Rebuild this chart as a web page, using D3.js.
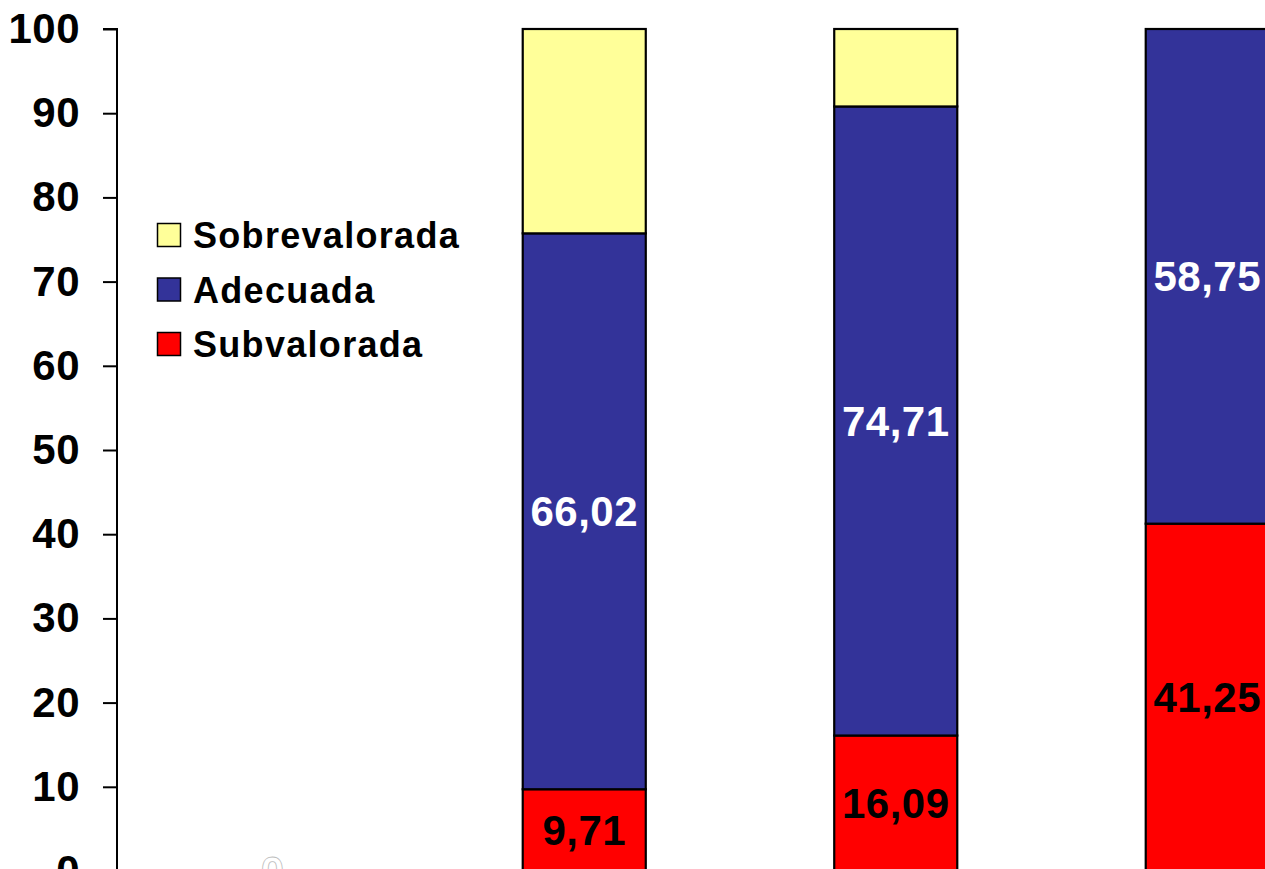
<!DOCTYPE html>
<html>
<head>
<meta charset="utf-8">
<script src="https://cdn.jsdelivr.net/npm/d3@7"></script>
<style>
  html, body { margin: 0; padding: 0; background: #fff; overflow: hidden; }
  svg { display: block; }
  text { font-family: "Liberation Sans", Arial, sans-serif; font-weight: bold; }
</style>
</head>
<body>
<svg id="chart" width="1265" height="869"></svg>
<script>
// ---- data ----
const categories = ["Grupo 1", "Grupo 2", "Grupo 3", "Grupo 4"];
const subvalorada   = [null, 9.71, 16.09, 41.25];
const adecuada      = [0, 66.02, 74.71, 58.75];
const sobrevalorada = [null, 24.27, 9.20, 0];
const seriesNames = ["Subvalorada", "Adecuada", "Sobrevalorada"];
const legendOrder = ["Sobrevalorada", "Adecuada", "Subvalorada"];
const yTicks = [0, 10, 20, 30, 40, 50, 60, 70, 80, 90, 100];

// ---- styles ----
const colors = { Subvalorada: "#FF0000", Adecuada: "#333399", Sobrevalorada: "#FFFF99" };
const labelColors = { Subvalorada: "#000000", Adecuada: "#FFFFFF", Sobrevalorada: null };

const svg = d3.select("#chart");
const x0 = 117, yTop = 29, yBottom = 871;

const x = d3.scaleBand()
  .domain(categories)
  .range([x0, x0 + 311.5 * categories.length])
  .paddingInner(0.605)
  .paddingOuter(0.3025);

const y = d3.scaleLinear().domain([0, 100]).range([yBottom, yTop]);

const valuesBySeries = { Subvalorada: subvalorada, Adecuada: adecuada, Sobrevalorada: sobrevalorada };
const table = categories.map((c, i) => {
  const row = { cat: c };
  seriesNames.forEach(s => row[s] = valuesBySeries[s][i] == null ? 0 : valuesBySeries[s][i]);
  return row;
});
const stacked = d3.stack().keys(seriesNames)(table);

// bars
const g = svg.append("g");
stacked.forEach(layer => {
  const name = layer.key;
  g.selectAll(null)
    .data(layer.map((d, i) => ({ d, i })).filter(o => valuesBySeries[name][o.i] != null && valuesBySeries[name][o.i] > 0))
    .join("rect")
    .attr("x", o => x(categories[o.i]))
    .attr("width", x.bandwidth())
    .attr("y", o => y(o.d[1]))
    .attr("height", o => y(o.d[0]) - y(o.d[1]))
    .attr("fill", colors[name])
    .attr("stroke", "#000")
    .attr("stroke-width", 2.2);
});

// labels
stacked.forEach(layer => {
  const name = layer.key;
  if (!labelColors[name]) return;
  const fmt = v => d3.format(".2f")(v).replace(".", ",").replace(/,00$/, "");
  g.selectAll(null)
    .data(layer.map((d, i) => ({ d, i })).filter(o => valuesBySeries[name][o.i] != null))
    .join("text")
    .attr("x", o => x(categories[o.i]) + x.bandwidth() / 2)
    .attr("y", o => (y(o.d[0]) + y(o.d[1])) / 2)
    .attr("dy", "0.36em")
    .attr("text-anchor", "middle")
    .attr("font-size", 42)
    .attr("letter-spacing", 0.5)
    .attr("fill", labelColors[name])
    .attr("stroke", o => valuesBySeries[name][o.i] === 0 ? "#bbbbbb" : "none")
    .attr("stroke-width", 0.8)
    .text(o => fmt(valuesBySeries[name][o.i]));
});

// y axis
const yAxis = d3.axisLeft(y).tickValues(yTicks).tickSize(14).tickPadding(23).tickFormat(d3.format("d"));
const ax = svg.append("g").attr("transform", `translate(${x0},0)`).call(yAxis);
ax.select(".domain").attr("stroke", "#000").attr("stroke-width", 2).attr("d", `M-14,${yTop}H0V${yBottom}`);
ax.selectAll(".tick line").attr("stroke", "#000").attr("stroke-width", 2);
ax.selectAll(".tick text")
  .attr("font-size", 42)
  .attr("letter-spacing", 0.5)
  .attr("font-weight", "bold")
  .attr("font-family", "'Liberation Sans', Arial, sans-serif")
  .attr("fill", "#000");

// legend
const leg = svg.append("g").attr("transform", "translate(157,223)");
legendOrder.forEach((name, i) => {
  const row = leg.append("g").attr("transform", `translate(0,${i * 54.5})`);
  row.append("rect").attr("x", 0.5).attr("y", 0.5).attr("width", 23).attr("height", 23)
    .attr("fill", colors[name]).attr("stroke", "#000").attr("stroke-width", 1.5);
  row.append("text").attr("x", 36).attr("y", 25)
    .attr("font-size", 36).attr("letter-spacing", 1.3).attr("fill", "#000").text(name);
});
</script>
</body>
</html>
